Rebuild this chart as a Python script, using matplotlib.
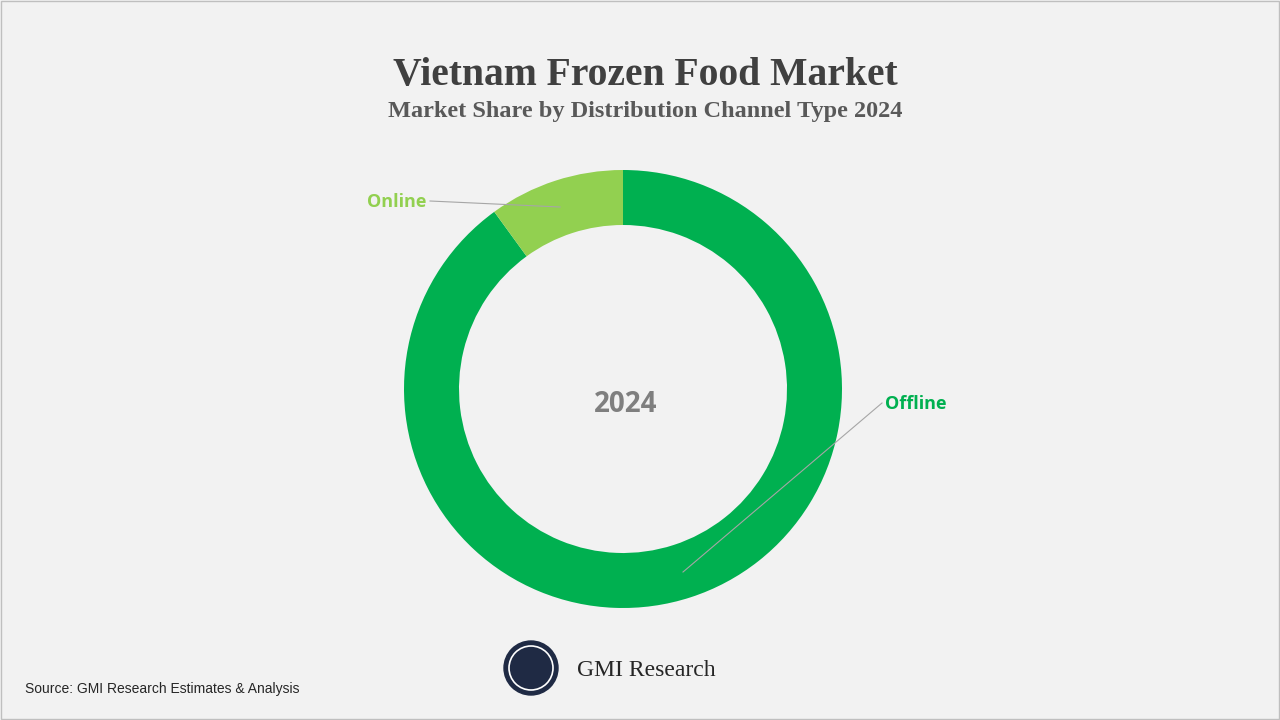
import matplotlib
matplotlib.use("Agg")
import matplotlib.pyplot as plt
from matplotlib.patches import Circle, Rectangle

categories = ["Offline", "Online"]
shares = [90, 10]
colors = ["#00B050", "#92D050"]
title = "Vietnam Frozen Food Market"
subtitle = "Market Share by Distribution Channel Type 2024"
center_label = "2024"

fig = plt.figure(figsize=(12.8, 7.2), dpi=100, facecolor="#F2F2F2")
ax = fig.add_axes([0, 0, 1, 1])
ax.set_xlim(0, 1280); ax.set_ylim(0, 720); ax.set_aspect("equal"); ax.axis("off")
ax.set_facecolor("#F2F2F2")
ax.add_patch(Rectangle((1, 1), 1278, 718, fill=False, ec="#BFBFBF", lw=1))

Y = lambda y: 720 - y
ax.pie(shares, colors=colors, startangle=90, counterclock=False, center=(623, Y(389)),
       radius=219, wedgeprops=dict(width=55, linewidth=0), frame=True)
ax.set_xlim(0, 1280); ax.set_ylim(0, 720); ax.axis("off")

ax.text(645, Y(76), title, ha="center", va="center", fontsize=28.5, fontweight="bold",
        family="Liberation Serif", color="#404040")
ax.text(645, Y(112), subtitle, ha="center", va="center", fontsize=17.5, fontweight="bold",
        family="Liberation Serif", color="#595959")
ax.text(626, Y(404), center_label, ha="center", va="center", fontsize=20, fontweight="bold",
        family="Open Sans", color="#7F7F7F")

ax.plot([430, 560], [Y(201), Y(207)], color="#A6A6A6", lw=0.8)
ax.text(426, Y(202), categories[1], ha="right", va="center", fontsize=13, fontweight="bold",
        family="Open Sans", color=colors[1])
ax.plot([882, 683], [Y(403), Y(572)], color="#A6A6A6", lw=0.8)
ax.text(885, Y(404), categories[0], ha="left", va="center", fontsize=13, fontweight="bold",
        family="Open Sans", color=colors[0])

ax.add_patch(Circle((531, Y(668)), 27, color="#1F2A44"))
ax.add_patch(Circle((531, Y(668)), 22, fill=False, ec="white", lw=1.2))
ax.text(577, Y(670), "GMI Research", ha="left", va="center", fontsize=17,
        family="Liberation Serif", color="#262626")
ax.text(25, Y(689), "Source: GMI Research Estimates & Analysis", ha="left", va="center",
        fontsize=10, family="Liberation Sans", color="#262626")

fig.savefig("out.png", dpi=100, facecolor="#F2F2F2")
